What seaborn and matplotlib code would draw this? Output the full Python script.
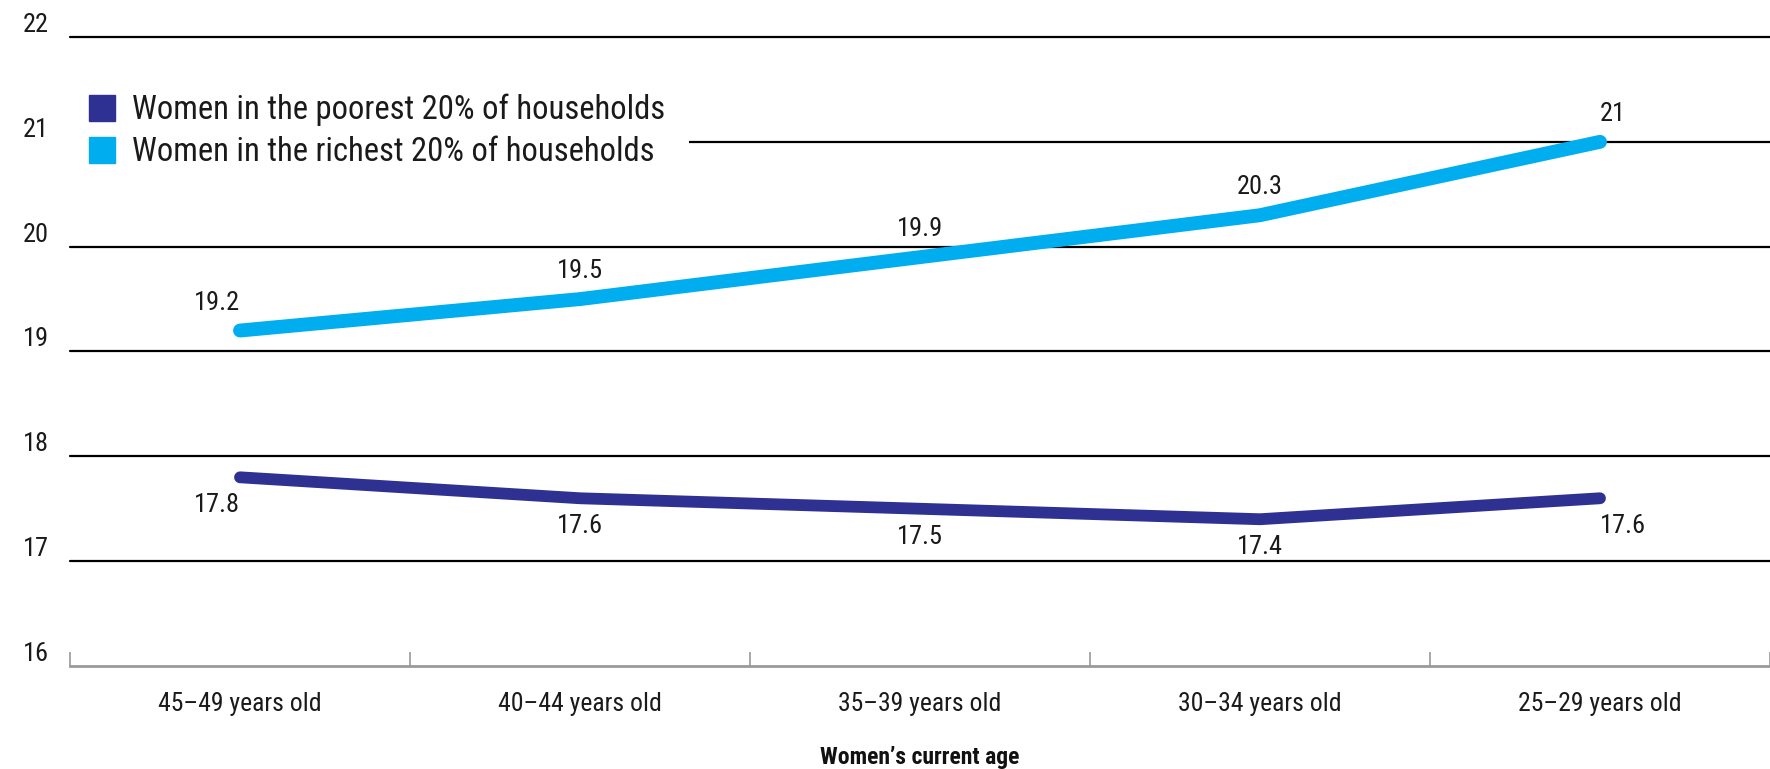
import matplotlib.pyplot as plt
import pandas as pd
import seaborn as sns
from matplotlib.lines import Line2D

age_groups = ["45–49 years old", "40–44 years old", "35–39 years old", "30–34 years old", "25–29 years old"]
poorest = [17.8, 17.6, 17.5, 17.4, 17.6]
richest = [19.2, 19.5, 19.9, 20.3, 21.0]
series_names = ["Women in the poorest 20% of households", "Women in the richest 20% of households"]
y_ticks = [16, 17, 18, 19, 20, 21, 22]

POOR_COLOR = "#2E3192"
RICH_COLOR = "#00AEEF"
AXIS_GREY = "#9A9A9A"
TEXT = "#1a1a1a"

df = pd.concat(
    [
        pd.DataFrame({"age": age_groups, "value": poorest, "group": series_names[0]}),
        pd.DataFrame({"age": age_groups, "value": richest, "group": series_names[1]}),
    ],
    ignore_index=True,
)

sns.set_theme(style="white")
# condensed face if one is around, plain DejaVu otherwise
plt.rcParams["font.family"] = ["Roboto Condensed", "Archivo Narrow", "PT Sans Narrow", "DejaVu Sans"]

fig = plt.figure(figsize=(17.7, 7.69), dpi=100)
ax = fig.add_axes([70 / 1770, 103 / 769, 1700 / 1770, 629 / 769])

styles = {
    series_names[0]: (POOR_COLOR, 8.5, -1),
    series_names[1]: (RICH_COLOR, 10, 1),
}
for name, (color, lw, side) in styles.items():
    sub = df[df["group"] == name]
    sns.lineplot(data=sub, x="age", y="value", color=color, linewidth=lw,
                 solid_capstyle="round", legend=False, ax=ax, zorder=3)
    n = len(sub)
    for i, v in enumerate(sub["value"]):
        ha = "right" if i == 0 else ("left" if i == n - 1 else "center")
        ax.annotate(f"{v:g}", (i, v), xytext=(0, 20 * side), textcoords="offset points",
                    ha=ha, va="center", fontsize=19, color=TEXT)

ax.set_xlim(-0.5, 4.5)
ax.set_ylim(16, 22)
ax.set_yticks(y_ticks)
ax.set_yticklabels([str(t) for t in y_ticks], va="bottom")
ax.tick_params(axis="y", length=0, pad=15, labelsize=19, labelcolor=TEXT)

# band boundaries as upward ticks, labels at band centres
ax.set_xticks([b - 0.5 for b in range(len(age_groups) + 1)])
ax.set_xticklabels([""] * (len(age_groups) + 1))
ax.set_xticks(range(len(age_groups)), minor=True)
ax.set_xticklabels(age_groups, minor=True)
ax.tick_params(axis="x", which="major", direction="in", length=10, width=1.2, color=AXIS_GREY, bottom=True)
ax.tick_params(axis="x", which="minor", length=0, pad=19, labelsize=18.5, labelcolor=TEXT)

ax.grid(axis="y", color="black", linewidth=1.6)
ax.grid(axis="x", visible=False)
ax.get_ygridlines()[0].set_visible(False)
for gl in ax.get_ygridlines():
    gl.set_clip_on(False)

sns.despine(ax=ax, left=True, top=True, right=True)
ax.spines["bottom"].set_color(AXIS_GREY)
ax.spines["bottom"].set_linewidth(2)

ax.set_xlabel("Women’s current age", fontsize=17, fontweight="bold", labelpad=21, color="#111111")
ax.set_ylabel("")

handles = [
    Line2D([], [], marker="s", linestyle="", markersize=18.5, color=POOR_COLOR),
    Line2D([], [], marker="s", linestyle="", markersize=18.5, color=RICH_COLOR),
]
leg = ax.legend(handles, series_names, loc="upper left", bbox_to_anchor=(-0.004, 1 - 32 / 629),
                frameon=True, facecolor="white", edgecolor="none", framealpha=1,
                fontsize=23.5, handlelength=0.9, handletextpad=0.45, labelspacing=0.32,
                borderpad=0.75, borderaxespad=0, labelcolor=TEXT)
leg.set_zorder(5)

fig.savefig("out.png", dpi=100)
